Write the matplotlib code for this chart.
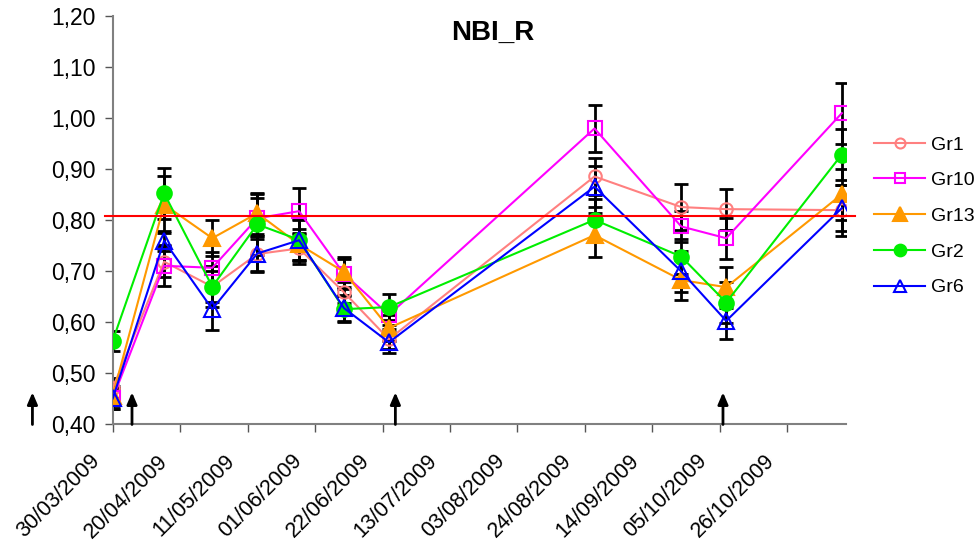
import numpy as np
import matplotlib as mpl
mpl.use('Agg')
mpl.rcParams['font.family'] = ['Liberation Sans', 'DejaVu Sans']
from matplotlib import pyplot as plt
import matplotlib.dates as mdates
import matplotlib.ticker as ticker
from matplotlib.transforms import ScaledTranslation

# sampling dates
dates = np.array(['2009-03-30', '2009-04-15', '2009-04-30', '2009-05-14', '2009-05-27',
                  '2009-06-10', '2009-06-24', '2009-08-27', '2009-09-23', '2009-10-07',
                  '2009-11-12'], dtype='datetime64[D]')

gr1 = [0.470, 0.718, 0.669, 0.733, 0.744, 0.658, 0.566, 0.885, 0.825, 0.821, 0.819]
gr10 = [0.450, 0.710, 0.706, 0.803, 0.817, 0.694, 0.614, 0.979, 0.787, 0.764, 1.009]
gr13 = [0.455, 0.830, 0.764, 0.813, 0.752, 0.698, 0.588, 0.770, 0.682, 0.668, 0.850]
gr2 = [0.563, 0.852, 0.669, 0.791, 0.761, 0.625, 0.629, 0.800, 0.728, 0.638, 0.928]
gr6 = [0.450, 0.759, 0.625, 0.734, 0.760, 0.627, 0.560, 0.865, 0.699, 0.602, 0.823]

err1 = [0.02, 0.03, 0.03, 0.035, 0.03, 0.02, 0.02, 0.036, 0.045, 0.04, 0.05]
err10 = [0.02, 0.04, 0.03, 0.04, 0.045, 0.03, 0.02, 0.046, 0.03, 0.04, 0.06]
err13 = [0.02, 0.055, 0.035, 0.04, 0.03, 0.03, 0.025, 0.043, 0.04, 0.04, 0.05]
err2 = [0.02, 0.05, 0.04, 0.06, 0.04, 0.025, 0.025, 0.04, 0.035, 0.04, 0.05]
err6 = [0.02, 0.02, 0.04, 0.035, 0.04, 0.025, 0.02, 0.04, 0.04, 0.035, 0.045]

ref_level = 0.807
arrow_dates = np.array(['2009-03-05', '2009-04-05', '2009-06-26', '2009-10-06'], dtype='datetime64[D]')
tick_dates = np.arange(np.datetime64('2009-03-30'), np.datetime64('2009-11-01'), 21)

x = mdates.date2num(dates)

fig = plt.figure(figsize=(9.76, 5.41), dpi=100)
ax = fig.add_axes([0.1155, 0.2163, 0.7513, 0.7547])

series = [('Gr1', gr1, err1, '#FF8080', 'o', 'none', 9),
          ('Gr10', gr10, err10, '#FF00FF', 's', 'none', 9.5),
          ('Gr13', gr13, err13, '#FF9900', '^', '#FF9900', 12),
          ('Gr2', gr2, err2, '#00EE00', 'o', '#00EE00', 10.5),
          ('Gr6', gr6, err6, '#0000FF', '^', 'none', 11)]

for name, y, e, c, m, fc, ms in series:
    ax.errorbar(x, y, yerr=e, fmt='none', ecolor='k', elinewidth=2, capsize=5,
                capthick=2, zorder=2)
for name, y, e, c, m, fc, ms in series:
    ax.plot(x, y, color=c, lw=1.5, marker=m, ms=ms, mfc=fc, mec=c, mew=1.5,
            label=name, zorder=3)

ax.axhline(ref_level, xmin=-0.01, xmax=1.012, color='#FF0000', lw=1.5, zorder=4,
           clip_on=False)

for d in arrow_dates:
    xd = mdates.date2num(d)
    ax.annotate('', xy=(xd, 0.462), xytext=(xd, 0.399), xycoords='data',
                arrowprops=dict(arrowstyle='-|>,head_width=0.3,head_length=0.7',
                                color='k', lw=2, shrinkA=0, shrinkB=0),
                annotation_clip=False, zorder=5)

ax.set_ylim(0.40, 1.20)
ax.set_yticks(np.arange(0.40, 1.201, 0.10))
ax.yaxis.set_major_formatter(ticker.FuncFormatter(lambda v, p: ('%.2f' % v).replace('.', ',')))
ax.set_xlim(mdates.date2num(np.datetime64('2009-03-30')),
            mdates.date2num(np.datetime64('2009-11-13')) + 0.3)
ax.set_xticks(mdates.date2num(tick_dates))
ax.set_xticklabels([str(d)[8:10] + '/' + str(d)[5:7] + '/' + str(d)[0:4] for d in tick_dates],
                   rotation=45, ha='right', va='center', rotation_mode='anchor')

for s in ['top', 'right']:
    ax.spines[s].set_visible(False)
for s in ['left', 'bottom']:
    ax.spines[s].set_color('#808080')
    ax.spines[s].set_linewidth(1.5)
ax.tick_params(axis='y', direction='out', length=5.5, width=1, color='#555555',
               labelsize=16.5, pad=7)
ax.tick_params(axis='x', direction='out', length=5.5, width=1, color='#555555',
               labelsize=15.5, pad=19)
for lab in ax.get_xticklabels():
    lab.set_transform(lab.get_transform() + ScaledTranslation(-0.16, 0, fig.dpi_scale_trans))

fig.text(493 / 976, 1 - 33 / 541, 'NBI_R', fontsize=20, fontweight='bold',
         ha='center', va='center')

leg = ax.legend(loc='center left', bbox_to_anchor=(1.015, 0.509), frameon=False,
                fontsize=14, handlelength=2.6, handletextpad=0.3, labelspacing=0.93,
                markerscale=0.8)

fig.savefig('out.png', dpi=100)
